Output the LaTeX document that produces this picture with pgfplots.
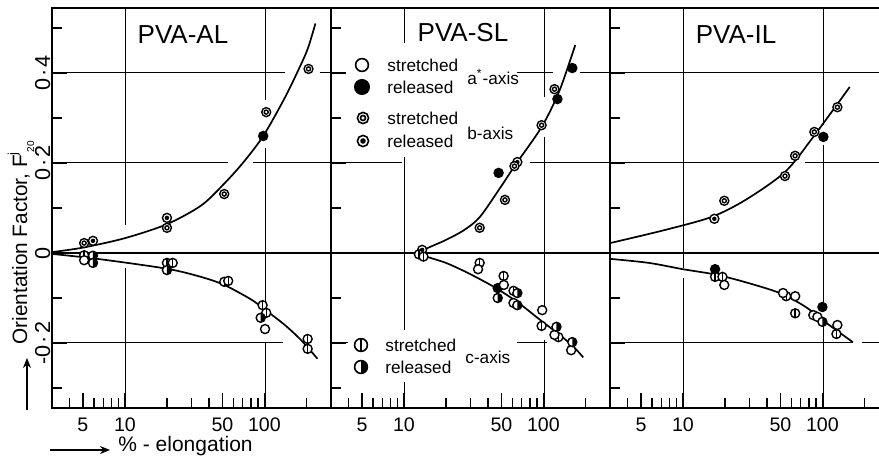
\documentclass[border=0pt]{standalone}
\usepackage{fontspec}
\setmainfont{Liberation Sans}
\usepackage{pgfplots}
\pgfplotsset{compat=1.18}
\usetikzlibrary{arrows.meta}

% ---- plot marks -------------------------------------------------------
% open circle (a*-axis, stretched)
\pgfdeclareplotmark{ostr}{%
  \pgfpathcircle{\pgfpointorigin}{\pgfplotmarksize}%
  \pgfsetfillcolor{white}\pgfusepathqfillstroke}
% solid circle (a*-axis, released)
\pgfdeclareplotmark{orel}{%
  \pgfpathcircle{\pgfpointorigin}{\pgfplotmarksize}%
  \pgfsetfillcolor{black}\pgfusepathqfillstroke}
% double circle (b-axis, stretched)
\pgfdeclareplotmark{bstr}{%
  \pgfpathcircle{\pgfpointorigin}{\pgfplotmarksize}%
  \pgfsetfillcolor{white}\pgfusepathqfillstroke
  \pgfpathcircle{\pgfpointorigin}{0.45\pgfplotmarksize}%
  \pgfusepathqstroke}
% circle with dot (b-axis, released)
\pgfdeclareplotmark{brel}{%
  \pgfpathcircle{\pgfpointorigin}{\pgfplotmarksize}%
  \pgfsetfillcolor{white}\pgfusepathqfillstroke
  \pgfpathcircle{\pgfpointorigin}{0.5\pgfplotmarksize}%
  \pgfsetfillcolor{black}\pgfusepathqfill}
% circle with vertical bar (c-axis, stretched)
\pgfdeclareplotmark{cstr}{%
  \pgfpathcircle{\pgfpointorigin}{\pgfplotmarksize}%
  \pgfsetfillcolor{white}\pgfusepathqfillstroke
  \pgfpathmoveto{\pgfqpoint{0pt}{-\pgfplotmarksize}}%
  \pgfpathlineto{\pgfqpoint{0pt}{\pgfplotmarksize}}%
  \pgfusepathqstroke}
% half-filled circle (c-axis, released)
\pgfdeclareplotmark{crel}{%
  \pgfpathcircle{\pgfpointorigin}{\pgfplotmarksize}%
  \pgfsetfillcolor{white}\pgfusepathqfillstroke
  \pgfpathmoveto{\pgfqpoint{0pt}{\pgfplotmarksize}}%
  \pgfpatharc{90}{-90}{\pgfplotmarksize}\pgfpathclose
  \pgfsetfillcolor{black}\pgfusepathqfill}

% common frame for the three panels
\pgfplotsset{
  every axis/.append style={
    scale only axis, height=200pt,
    xmode=log, ymin=-0.3444, ymax=0.5444,
    axis line style={line width=1.1pt},
    tick align=inside,
    xtick={5,10,50,100}, xticklabels={5,10,50,100},
    minor xtick={4,6,7,8,9,20,30,40,60,70,80,90,200},
    ytick={-0.2,0,0.2,0.4}, minor ytick={-0.3,-0.1,0.1,0.3,0.5},
    major tick length=7.5pt, minor tick length=5pt,
    tick style={black, line width=0.6pt},
    xticklabel style={font=\fontsize{9.8}{10}\selectfont, yshift=-1.5pt},
    mark size=2.25pt,
  },
  fitcurve/.style={no marks, smooth, line width=0.85pt, black},
  datapts/.style={only marks, mark=#1, black, mark options={line width=0.7pt}},
}

\newsavebox\symAs \newsavebox\symAr
\newsavebox\symBs \newsavebox\symBr
\newsavebox\symCs \newsavebox\symCr
\newcommand\legsym[2]{\tikz{\pgfsetlinewidth{0.8pt}\pgfsetplotmarksize{#2}\pgfuseplotmark{#1}}}
\newcommand\legfont{\fontsize{8.6}{10}\selectfont}
\newcommand\ttlfont{\fontsize{13}{15}\selectfont}
\newcommand\ylab[1]{0\kern0.1em·\kern0.1em#1}

\begin{document}
\sbox\symAs{\legsym{ostr}{3.2pt}}\sbox\symAr{\legsym{orel}{3.6pt}}%
\sbox\symBs{\legsym{bstr}{2.8pt}}\sbox\symBr{\legsym{brel}{2.8pt}}%
\sbox\symCs{\legsym{cstr}{3.2pt}}\sbox\symCr{\legsym{crel}{3.2pt}}%
\begin{tikzpicture}
\useasboundingbox (0,0) rectangle (439.5pt,230pt);

% ---- drafted grid lines (broken where the data run) -------------------
\begin{scope}[x=0.5pt,y=-0.5pt,shift={(0pt,230pt)},line width=0.5pt]
  % PVA-AL
  \draw (52,73)--(285,73) (320,73)--(331,73);
  \draw (52,163)--(228,163) (253,163)--(331,163);
  \draw (52,343)--(283,343);
  \draw (125,8)--(125,225) (125,268)--(125,408);
  \draw (265,8)--(265,100) (265,148)--(265,303) (265,343)--(265,408);
  % PVA-SL
  \draw (331,73)--(345,73) (517,73)--(553,73) (580,73)--(610,73);
  \draw (331,163)--(402,163) (530,163)--(610,163);
  \draw (331,343)--(348,343) (517,343)--(547,343);
  \draw (404,8)--(404,43) (404,157)--(404,330) (404,382)--(404,408);
  \draw (544,8)--(544,97) (544,137)--(544,310) (544,340)--(544,408);
  % PVA-IL
  \draw (610,73)--(879,73);
  \draw (610,163)--(793,163) (805,163)--(879,163);
  \draw (610,343)--(853,343) (862,343)--(879,343);
  \draw (683,8)--(683,268) (683,278)--(683,408);
  \draw (823,8)--(823,125) (823,145)--(823,302) (823,325)--(823,408);
  % zero line across all panels
  \draw[line width=1.2pt] (52,253)--(879,253);
\end{scope}

% ---- PVA-AL ------------------------------------------------------------
\begin{axis}[at={(26pt,26pt)}, anchor=south west,
  width=139.5pt, xmin=3, xmax=300,
  xtick pos=left, ytick pos=left,
  yticklabels={-\ylab2,0,\ylab2,\ylab4},
  yticklabel style={rotate=90, anchor=south, inner sep=0.6pt,
    font=\fontsize{10.8}{11}\selectfont}]
  \addplot[fitcurve] coordinates {(3,0.002) (5,0.012) (10,0.033) (20,0.064) (35,0.105)
    (50,0.15) (70,0.2) (98,0.26) (140,0.345) (179,0.413) (205,0.455) (232,0.51)};
  \addplot[fitcurve] coordinates {(3,-0.002) (6.7,-0.014) (20,-0.035) (35,-0.053)
    (51.5,-0.071) (80,-0.103) (100,-0.125) (140,-0.16) (185,-0.195) (240,-0.235)};
  \addplot[datapts=orel] coordinates {(98,0.26)};
  \addplot[datapts=bstr] coordinates {(5.1,0.022) (20,0.056) (51.5,0.131) (103,0.313) (207,0.409)};
  \addplot[datapts=brel] coordinates {(5.9,0.027) (20,0.078)};
  \addplot[datapts=cstr] coordinates {(5.1,-0.005) (20,-0.022) (22,-0.022) (51.5,-0.064)
    (55,-0.062) (97,-0.116) (103,-0.133) (204,-0.191) (204,-0.213)};
  \addplot[datapts=ostr] coordinates {(5.1,-0.016) (101,-0.169)};
  \addplot[datapts=crel] coordinates {(5.9,-0.006) (5.9,-0.022) (20,-0.038) (94,-0.144)};
\end{axis}

% ---- PVA-SL ------------------------------------------------------------
\begin{axis}[at={(165.5pt,26pt)}, anchor=south west,
  width=139.5pt, xmin=3, xmax=300, yticklabels={},
  xtick pos=left, ytick pos=left]
  \addplot[fitcurve] coordinates {(13.5,0.005) (15,0.012) (20,0.029) (27,0.051) (35,0.08)
    (49,0.145) (63,0.196) (97,0.28) (130,0.36) (169,0.462)};
  \addplot[fitcurve] coordinates {(13.5,-0.003) (14.8,-0.009) (20,-0.022) (28.6,-0.044)
    (44,-0.075) (65,-0.109) (95,-0.149) (132,-0.183) (164,-0.208) (193,-0.232)};
  \addplot[datapts=orel] coordinates {(47.7,0.178) (126,0.342) (161,0.411) (47,-0.078)};
  \addplot[datapts=brel] coordinates {(65,0.202) (13.5,0.007)};
  \addplot[datapts=bstr] coordinates {(34.9,0.056) (53,0.118) (62,0.193) (97,0.284) (120,0.364)};
  \addplot[datapts=cstr] coordinates {(12.8,-0.003) (13.8,-0.008) (34.9,-0.022) (51.8,-0.051)
    (61,-0.084) (97,-0.162) (128,-0.187)};
  \addplot[datapts=ostr] coordinates {(34,-0.036) (52,-0.071) (61,-0.111) (98,-0.127)
    (120,-0.182) (158,-0.216)};
  \addplot[datapts=crel] coordinates {(47,-0.1) (65,-0.089) (65,-0.116) (124,-0.164) (161,-0.198)};
\end{axis}

% ---- PVA-IL (runs on past the right edge, so no right-hand frame) -------
\begin{axis}[at={(305pt,26pt)}, anchor=south west,
  width=134.5pt, xmin=3, xmax=254.5, yticklabels={},
  axis y line*=left, y axis line style={-},
  xtick pos=left, ytick pos=left]
  \addplot[fitcurve] coordinates {(3,0.022) (7.4,0.051) (16,0.08) (28.1,0.118)
    (53.9,0.18) (86,0.258) (157,0.369)};
  \addplot[fitcurve] coordinates {(3,-0.013) (5.7,-0.022) (10,-0.036) (16.5,-0.047)
    (26,-0.062) (49.6,-0.089) (76,-0.12) (95,-0.144) (165,-0.198)};
  \addplot[datapts=bstr] coordinates {(19.8,0.116) (53.9,0.171) (63.7,0.216) (87.5,0.269) (128,0.324)};
  \addplot[datapts=brel] coordinates {(16.8,0.076)};
  \addplot[datapts=orel] coordinates {(101.6,0.258) (17,-0.036) (100,-0.12)};
  \addplot[datapts=cstr] coordinates {(17,-0.053) (19.2,-0.053) (55,-0.096) (63.8,-0.134) (126,-0.18)};
  \addplot[datapts=ostr] coordinates {(19.8,-0.071) (52.2,-0.089) (63.8,-0.096) (86,-0.138)
    (92,-0.142) (128,-0.16)};
  \addplot[datapts=crel] coordinates {(100,-0.153)};
\end{axis}

% ---- titles, key and axis captions ------------------------------------
\begin{scope}[x=0.5pt,y=-0.5pt,shift={(0pt,230pt)}]
  \node[font=\ttlfont] at (183,35) {PVA-AL};
  \node[font=\ttlfont] at (463,33) {PVA-SL};
  \node[font=\ttlfont] at (736,35) {PVA-IL};

  \node at (362,65) {\usebox\symAs};
  \node at (362,87) {\usebox\symAr};
  \node[anchor=west,inner sep=0pt,font=\legfont] at (387,65) {stretched};
  \node[anchor=west,inner sep=0pt,font=\legfont] at (387,87) {released};
  \node[anchor=west,inner sep=0pt,font=\legfont] at (467,77) {a\textsuperscript{*}-axis};
  \node at (363,118) {\usebox\symBs};
  \node at (363,141) {\usebox\symBr};
  \node[anchor=west,inner sep=0pt,font=\legfont] at (387,118) {stretched};
  \node[anchor=west,inner sep=0pt,font=\legfont] at (387,141) {released};
  \node[anchor=west,inner sep=0pt,font=\legfont] at (467,133) {b-axis};
  \node at (361,345) {\usebox\symCs};
  \node at (361,367) {\usebox\symCr};
  \node[anchor=west,inner sep=0pt,font=\legfont] at (385,345) {stretched};
  \node[anchor=west,inner sep=0pt,font=\legfont] at (385,367) {released};
  \node[anchor=west,inner sep=0pt,font=\legfont] at (465,357) {c-axis};

  \node[rotate=90, anchor=base west, inner sep=0pt, font=\fontsize{10.4}{12}\selectfont] at (27,345)
    {Orientation Factor, F\raisebox{0.48em}{\fontsize{6.5}{6.5}\selectfont j}\raisebox{-3.5pt}{\fontsize{5}{5}\selectfont 20}};
  \draw[line width=0.7pt, -{Stealth[length=5pt,width=4pt]}] (27,410)--(27,358);
  \draw[line width=0.7pt, -{Stealth[length=5pt,width=4pt]}] (50,450)--(110,450);
  \node[anchor=base west, inner sep=0pt, font=\fontsize{10.5}{12}\selectfont] at (118,452) {\% - elongation};
\end{scope}
\end{tikzpicture}
\end{document}
